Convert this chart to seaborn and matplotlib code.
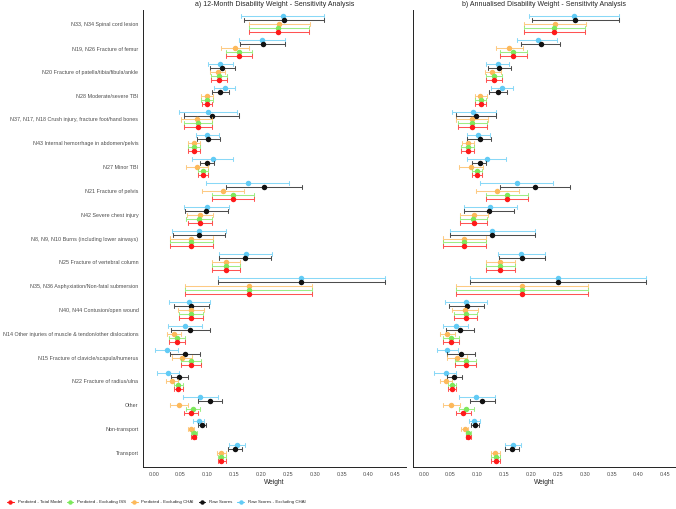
import matplotlib
matplotlib.use("Agg")
import matplotlib.pyplot as plt
from matplotlib.lines import Line2D
import numpy as np
import pandas as pd
import seaborn as sns

FUENTE = "Liberation Sans"

CATEGORIAS = [
    "N33, N34 Spinal cord lesion",
    "N19, N26 Fracture of femur",
    "N20 Fracture of patella/tibia/fibula/ankle",
    "N28 Moderate/severe TBI",
    "N37, N17, N18 Crush injury, fracture foot/hand bones",
    "N43 Internal hemorrhage in abdomen/pelvis",
    "N27 Minor TBI",
    "N21 Fracture of pelvis",
    "N42 Severe chest injury",
    "N8, N9, N10 Burns (including lower airways)",
    "N25 Fracture of vertebral column",
    "N35, N36 Asphyxiation/Non-fatal submersion",
    "N40, N44 Contusion/open wound",
    "N14 Other injuries of muscle & tendon/other dislocations",
    "N15 Fracture of clavicle/scapula/humerus",
    "N22 Fracture of radius/ulna",
    "Other",
    "Non-transport",
    "Transport",
]

SERIES = [
    "Predicted - Total Model",
    "Predicted - Excluding ISS",
    "Predicted - Excluding CHAI",
    "Raw Scores",
    "Raw Scores - Excluding CHAI",
]
COLORES = {
    "Predicted - Total Model": "#FF1A1A",
    "Predicted - Excluding ISS": "#7DE85C",
    "Predicted - Excluding CHAI": "#FDB95A",
    "Raw Scores": "#111111",
    "Raw Scores - Excluding CHAI": "#62CBF5",
}

# ── a) 12-month disability weight ─────────────────────────────────────────
A_TOTAL_LO = [0.177, 0.134, 0.107, 0.090, 0.056, 0.063, 0.083, 0.109, 0.063, 0.031,
              0.109, 0.058, 0.048, 0.028, 0.051, 0.038, 0.057, 0.070, 0.119]
A_TOTAL_PT = [0.232, 0.159, 0.121, 0.100, 0.082, 0.075, 0.092, 0.148, 0.086, 0.070,
              0.135, 0.177, 0.070, 0.043, 0.070, 0.046, 0.070, 0.075, 0.126]
A_TOTAL_HI = [0.289, 0.184, 0.136, 0.109, 0.109, 0.086, 0.101, 0.186, 0.109, 0.110,
              0.161, 0.294, 0.091, 0.058, 0.088, 0.055, 0.083, 0.079, 0.135]

A_ISS_LO = [0.177, 0.134, 0.107, 0.088, 0.057, 0.063, 0.083, 0.109, 0.061, 0.031,
            0.109, 0.058, 0.048, 0.028, 0.051, 0.038, 0.060, 0.070, 0.119]
A_ISS_PT = [0.232, 0.159, 0.121, 0.100, 0.082, 0.075, 0.092, 0.148, 0.085, 0.070,
            0.135, 0.177, 0.070, 0.043, 0.070, 0.046, 0.073, 0.075, 0.126]
A_ISS_HI = [0.289, 0.184, 0.136, 0.110, 0.109, 0.086, 0.101, 0.186, 0.109, 0.110,
            0.161, 0.294, 0.091, 0.058, 0.088, 0.055, 0.086, 0.080, 0.135]

A_CHAI_LO = [0.178, 0.126, 0.105, 0.088, 0.051, 0.063, 0.061, 0.090, 0.062, 0.031,
             0.109, 0.058, 0.045, 0.024, 0.034, 0.023, 0.031, 0.063, 0.118]
A_CHAI_PT = [0.234, 0.152, 0.119, 0.100, 0.080, 0.075, 0.081, 0.129, 0.086, 0.070,
             0.135, 0.177, 0.070, 0.037, 0.053, 0.034, 0.047, 0.070, 0.125]
A_CHAI_HI = [0.291, 0.177, 0.133, 0.110, 0.109, 0.086, 0.101, 0.168, 0.111, 0.110,
             0.161, 0.295, 0.094, 0.050, 0.071, 0.046, 0.063, 0.075, 0.135]

A_RAW_LO = [0.168, 0.160, 0.104, 0.109, 0.057, 0.080, 0.086, 0.135, 0.058, 0.035,
            0.122, 0.119, 0.038, 0.032, 0.030, 0.033, 0.082, 0.082, 0.139]
A_RAW_PT = [0.242, 0.203, 0.127, 0.124, 0.108, 0.101, 0.100, 0.206, 0.098, 0.084,
            0.170, 0.275, 0.070, 0.068, 0.059, 0.048, 0.105, 0.090, 0.152]
A_RAW_HI = [0.317, 0.245, 0.151, 0.140, 0.158, 0.123, 0.113, 0.277, 0.138, 0.133,
            0.219, 0.430, 0.103, 0.104, 0.087, 0.063, 0.128, 0.097, 0.165]

A_RAWX_LO = [0.163, 0.158, 0.101, 0.112, 0.047, 0.078, 0.071, 0.098, 0.057, 0.034,
             0.122, 0.119, 0.028, 0.026, 0.003, 0.007, 0.054, 0.074, 0.141]
A_RAWX_PT = [0.240, 0.202, 0.124, 0.132, 0.101, 0.100, 0.110, 0.175, 0.099, 0.084,
             0.171, 0.275, 0.066, 0.058, 0.024, 0.027, 0.086, 0.084, 0.155]
A_RAWX_HI = [0.317, 0.245, 0.148, 0.152, 0.156, 0.122, 0.148, 0.252, 0.141, 0.134,
             0.220, 0.430, 0.105, 0.090, 0.046, 0.047, 0.120, 0.094, 0.170]

# ── b) annualised disability weight ───────────────────────────────────────
B_TOTAL_LO = [0.186, 0.142, 0.116, 0.096, 0.063, 0.070, 0.090, 0.116, 0.068, 0.035,
              0.116, 0.061, 0.056, 0.035, 0.059, 0.045, 0.060, 0.078, 0.126]
B_TOTAL_PT = [0.242, 0.167, 0.130, 0.106, 0.090, 0.082, 0.099, 0.156, 0.093, 0.075,
              0.143, 0.184, 0.078, 0.050, 0.078, 0.053, 0.074, 0.083, 0.134]
B_TOTAL_HI = [0.300, 0.193, 0.145, 0.116, 0.117, 0.094, 0.109, 0.195, 0.117, 0.116,
              0.170, 0.306, 0.100, 0.065, 0.097, 0.061, 0.088, 0.088, 0.143]

B_ISS_LO = [0.186, 0.142, 0.116, 0.096, 0.064, 0.070, 0.090, 0.116, 0.068, 0.035,
            0.116, 0.061, 0.056, 0.035, 0.059, 0.045, 0.065, 0.078, 0.126]
B_ISS_PT = [0.242, 0.167, 0.130, 0.106, 0.090, 0.082, 0.099, 0.156, 0.092, 0.075,
            0.143, 0.184, 0.078, 0.050, 0.078, 0.053, 0.079, 0.083, 0.134]
B_ISS_HI = [0.300, 0.193, 0.145, 0.116, 0.117, 0.094, 0.109, 0.195, 0.117, 0.116,
            0.170, 0.306, 0.099, 0.065, 0.097, 0.061, 0.093, 0.088, 0.143]

B_CHAI_LO = [0.186, 0.135, 0.114, 0.095, 0.060, 0.071, 0.066, 0.097, 0.068, 0.035,
             0.116, 0.061, 0.052, 0.030, 0.043, 0.030, 0.035, 0.070, 0.125]
B_CHAI_PT = [0.244, 0.159, 0.128, 0.105, 0.089, 0.082, 0.088, 0.137, 0.093, 0.075,
             0.143, 0.184, 0.077, 0.044, 0.062, 0.041, 0.051, 0.076, 0.133]
B_CHAI_HI = [0.302, 0.185, 0.144, 0.117, 0.119, 0.094, 0.110, 0.177, 0.119, 0.116,
             0.170, 0.306, 0.102, 0.058, 0.081, 0.053, 0.067, 0.082, 0.142]

B_RAW_LO = [0.201, 0.182, 0.119, 0.122, 0.060, 0.081, 0.090, 0.143, 0.075, 0.049,
            0.140, 0.086, 0.047, 0.041, 0.044, 0.043, 0.087, 0.088, 0.152]
B_RAW_PT = [0.282, 0.218, 0.140, 0.138, 0.097, 0.104, 0.104, 0.207, 0.122, 0.128,
            0.184, 0.250, 0.080, 0.067, 0.070, 0.057, 0.109, 0.095, 0.164]
B_RAW_HI = [0.363, 0.253, 0.162, 0.155, 0.135, 0.125, 0.116, 0.272, 0.168, 0.207,
            0.226, 0.414, 0.113, 0.093, 0.096, 0.071, 0.132, 0.103, 0.177]

B_RAWX_LO = [0.197, 0.174, 0.116, 0.125, 0.052, 0.080, 0.081, 0.104, 0.075, 0.049,
             0.139, 0.086, 0.039, 0.036, 0.024, 0.020, 0.065, 0.084, 0.152]
B_RAWX_PT = [0.280, 0.212, 0.138, 0.145, 0.092, 0.102, 0.117, 0.173, 0.124, 0.128,
             0.182, 0.250, 0.078, 0.060, 0.044, 0.041, 0.098, 0.094, 0.167]
B_RAWX_HI = [0.363, 0.249, 0.159, 0.166, 0.135, 0.123, 0.153, 0.241, 0.173, 0.207,
             0.226, 0.414, 0.117, 0.083, 0.064, 0.060, 0.132, 0.104, 0.181]

PANEL_A = {
    "Predicted - Total Model": (A_TOTAL_LO, A_TOTAL_PT, A_TOTAL_HI),
    "Predicted - Excluding ISS": (A_ISS_LO, A_ISS_PT, A_ISS_HI),
    "Predicted - Excluding CHAI": (A_CHAI_LO, A_CHAI_PT, A_CHAI_HI),
    "Raw Scores": (A_RAW_LO, A_RAW_PT, A_RAW_HI),
    "Raw Scores - Excluding CHAI": (A_RAWX_LO, A_RAWX_PT, A_RAWX_HI),
}
PANEL_B = {
    "Predicted - Total Model": (B_TOTAL_LO, B_TOTAL_PT, B_TOTAL_HI),
    "Predicted - Excluding ISS": (B_ISS_LO, B_ISS_PT, B_ISS_HI),
    "Predicted - Excluding CHAI": (B_CHAI_LO, B_CHAI_PT, B_CHAI_HI),
    "Raw Scores": (B_RAW_LO, B_RAW_PT, B_RAW_HI),
    "Raw Scores - Excluding CHAI": (B_RAWX_LO, B_RAWX_PT, B_RAWX_HI),
}


def a_largo(panel):
    # tres filas por punto (inferior, estimación, superior): la mediana es el punto
    filas = []
    for serie, (lo, pt, hi) in panel.items():
        for i, cat in enumerate(CATEGORIAS):
            for v in (lo[i], pt[i], hi[i]):
                filas.append({"categoria": cat, "serie": serie, "valor": v})
    return pd.DataFrame(filas)


# el primer nivel queda arriba dentro de cada grupo
ORDEN_HUE = SERIES[::-1]

sns.set_style("white")
plt.rcParams["font.family"] = [FUENTE, "DejaVu Sans"]

fig = plt.figure(figsize=(6.76, 5.09), dpi=100)
fig.patch.set_facecolor("white")
ax_a = fig.add_axes([143 / 676, 42 / 509, 263 / 676, 457 / 509])
ax_b = fig.add_axes([413 / 676, 42 / 509, 263 / 676, 457 / 509])

for ax, panel in ((ax_a, PANEL_A), (ax_b, PANEL_B)):
    sns.pointplot(
        data=a_largo(panel), x="valor", y="categoria",
        order=CATEGORIAS, hue="serie", hue_order=ORDEN_HUE,
        palette=COLORES, estimator="median",
        errorbar=lambda v: (v.min(), v.max()),
        dodge=0.667, capsize=0.17, linestyle="none",
        markers="o", markersize=1.9,
        err_kws={"linewidth": 0.75, "alpha": 0.75},
        legend=False, orient="h", ax=ax,
    )
    ax.set_xlim(-0.02, 0.47)
    ax.set_ylim(18.6, -0.6)
    ax.set_xticks(np.arange(0, 0.451, 0.05))
    ax.set_xticklabels([f"{t:.2f}" for t in np.arange(0, 0.451, 0.05)],
                       fontsize=3.9, color="#4D4D4D")
    ax.set_xlabel("Weight", fontsize=4.8, labelpad=1.5)
    ax.set_ylabel("")
    ax.tick_params(axis="both", length=1.8, width=0.5, pad=1.5, color="#333333")
    for s in ["top", "right"]:
        ax.spines[s].set_visible(False)
    for s in ["left", "bottom"]:
        ax.spines[s].set_color("#222222")
        ax.spines[s].set_linewidth(0.7)

ax_a.set_yticks(range(len(CATEGORIAS)))
ax_a.set_yticklabels(CATEGORIAS, fontsize=3.9, color="#4D4D4D")
ax_b.set_yticks([])

fig.text((143 + 406) / 2 / 676, 1 - 4.5 / 509,
         "a) 12-Month Disability Weight - Sensitivity Analysis",
         ha="center", va="center", fontsize=5.0)
fig.text((413 + 676) / 2 / 676, 1 - 4.5 / 509,
         "b) Annualised Disability Weight - Sensitivity Analysis",
         ha="center", va="center", fontsize=5.0)

handles = [Line2D([0], [0], color=COLORES[s], marker="o", markersize=2.2,
                  linewidth=0.8) for s in SERIES]
fig.legend(handles, SERIES, loc="center left",
           bbox_to_anchor=(5 / 676, 1 - 502 / 509), ncol=5, frameon=False,
           fontsize=3.15, handlelength=1.5, handletextpad=0.9,
           columnspacing=1.1, borderpad=0)

fig.savefig("out.png", dpi=100)
